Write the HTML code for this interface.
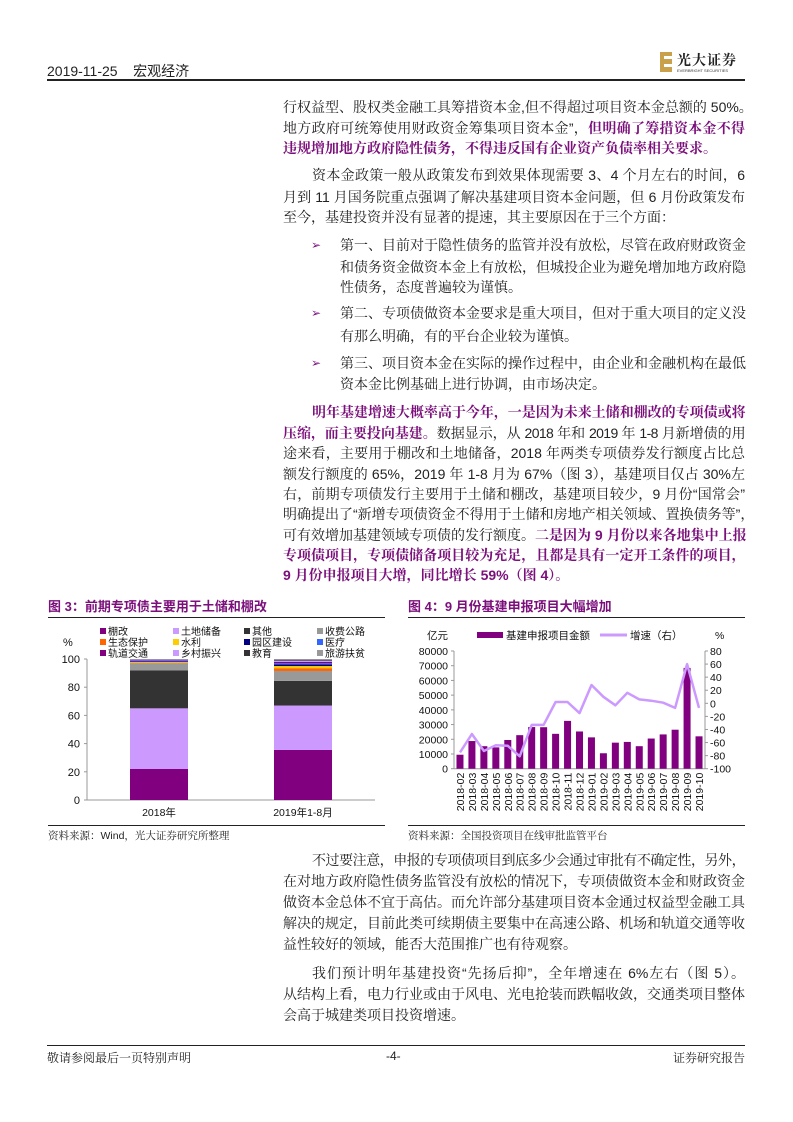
<!DOCTYPE html>
<html><head><meta charset="utf-8">
<style>
html,body{margin:0;padding:0;background:#fff;}
body{width:793px;height:1122px;position:relative;overflow:hidden;font-family:"Liberation Sans","Noto Serif CJK SC","Noto Sans CJK SC",serif;color:#222;}
.l{position:absolute;left:283px;width:462px;height:20px;line-height:20px;font-size:14px;white-space:nowrap;text-align:justify;text-align-last:justify;}
.n{text-align-last:left;}
.k{letter-spacing:-0.6px;}
.b{left:340px;width:405px;}
.ar{position:absolute;left:311px;font-size:12px;color:#7b0f7b;line-height:20px;}
.p{color:#7b0f7b;font-weight:bold;}
.t{position:absolute;font-size:13px;font-weight:bold;color:#7b0f7b;font-family:"Liberation Sans","Noto Sans CJK SC",sans-serif;}
.s{position:absolute;font-size:10.5px;color:#222;}
.h{position:absolute;height:1.5px;background:#222;}
svg text{font-family:"Liberation Sans","Noto Sans CJK SC",sans-serif;}
</style></head>
<body>
<div style="position:absolute;left:47px;top:61px;font-size:14px;font-family:'Liberation Sans','Noto Sans CJK SC',sans-serif;">2019-11-25&nbsp;&nbsp;&nbsp; 宏观经济</div>
<div class="h" style="left:47px;top:79px;width:698px;"></div>
<div style="position:absolute;left:660px;top:50px;width:86px;height:26px;">
  <div style="position:absolute;left:0;top:2px;width:12px;height:20px;background:#c9a14a;"></div>
  <div style="position:absolute;left:4px;top:6px;width:10px;height:3px;background:#fff;"></div>
  <div style="position:absolute;left:4px;top:14px;width:10px;height:3px;background:#fff;"></div>
  <div style="position:absolute;left:17px;top:0;font-size:14px;font-weight:bold;letter-spacing:1px;color:#222;">光大证券</div>
  <div style="position:absolute;left:17px;top:18px;font-size:4px;color:#333;">EVERBRIGHT SECURITIES</div>
</div>

<div class="l" style="top:97px">行权益型、股权类金融工具筹措资本金,但不得超过项目资本金总额的 50%。</div>
<div class="l" style="top:118px">地方政府可统筹使用财政资金筹集项目资本金”，<span class="p">但明确了筹措资本金不得</span></div>
<div class="l n p" style="top:138px">违规增加地方政府隐性债务，不得违反国有企业资产负债率相关要求。</div>

<div class="l" style="top:165px;left:312px;width:433px;">资本金政策一般从政策发布到效果体现需要 3、4 个月左右的时间，6</div>
<div class="l" style="top:187px">月到 11 月国务院重点强调了解决基建项目资本金问题，但 6 月份政策发布</div>
<div class="l n" style="top:207px">至今，基建投资并没有显著的提速，其主要原因在于三个方面：</div>

<div class="ar" style="top:235px">➢</div>
<div class="l b" style="top:235px">第一、目前对于隐性债务的监管并没有放松，尽管在政府财政资金</div>
<div class="l b" style="top:257px">和债务资金做资本金上有放松，但城投企业为避免增加地方政府隐</div>
<div class="l b n" style="top:277px">性债务，态度普遍较为谨慎。</div>
<div class="ar" style="top:303px">➢</div>
<div class="l b" style="top:303px">第二、专项债做资本金要求是重大项目，但对于重大项目的定义没</div>
<div class="l b n" style="top:326px">有那么明确，有的平台企业较为谨慎。</div>
<div class="ar" style="top:353px">➢</div>
<div class="l b" style="top:353px">第三、项目资本金在实际的操作过程中，由企业和金融机构在最低</div>
<div class="l b n" style="top:374px">资本金比例基础上进行协调，由市场决定。</div>

<div class="l p k" style="top:402px;left:312px;width:433px;">明年基建增速大概率高于今年，一是因为未来土储和棚改的专项债或将</div>
<div class="l k" style="top:423px"><span class="p">压缩，而主要投向基建。</span>数据显示，从 2018 年和 2019 年 1-8 月新增债的用</div>
<div class="l" style="top:443px">途来看，主要用于棚改和土地储备，2018 年两类专项债券发行额度占比总</div>
<div class="l" style="top:464px">额发行额度的 65%，2019 年 1-8 月为 67%（图 3），基建项目仅占 30%左</div>
<div class="l" style="top:484px">右，前期专项债发行主要用于土储和棚改，基建项目较少，9 月份“国常会”</div>
<div class="l" style="top:504px">明确提出了“新增专项债资金不得用于土储和房地产相关领域、置换债务等”，</div>
<div class="l" style="top:525px">可有效增加基建领域专项债的发行额度。<span class="p">二是因为 9 月份以来各地集中上报</span></div>
<div class="l p k" style="top:545px">专项债项目，专项债储备项目较为充足，且都是具有一定开工条件的项目，</div>
<div class="l n p" style="top:565px">9 月份申报项目大增，同比增长 59%（图 4）。</div>

<div class="t" style="left:48px;top:596px;">图 3：前期专项债主要用于土储和棚改</div>
<div class="t" style="left:408px;top:596px;">图 4：9 月份基建申报项目大幅增加</div>
<div class="h" style="left:48px;top:617px;width:337px;height:1px;"></div>
<div class="h" style="left:408px;top:617px;width:337px;height:1px;"></div>
<div class="h" style="left:48px;top:825px;width:337px;height:1px;"></div>
<div class="h" style="left:408px;top:825px;width:337px;height:1px;"></div>
<div class="s" style="left:48px;top:828px;">资料来源：Wind，光大证券研究所整理</div>
<div class="s" style="left:408px;top:828px;">资料来源：全国投资项目在线审批监管平台</div>

<svg id="ch" width="793" height="1122" style="position:absolute;left:0;top:0;"></svg>

<div class="l k" style="top:850px;left:312px;width:433px;">不过要注意，申报的专项债项目到底多少会通过审批有不确定性，另外，</div>
<div class="l" style="top:871px">在对地方政府隐性债务监管没有放松的情况下，专项债做资本金和财政资金</div>
<div class="l" style="top:892px">做资本金总体不宜于高估。而允许部分基建项目资本金通过权益型金融工具</div>
<div class="l" style="top:913px">解决的规定，目前此类可续期债主要集中在高速公路、机场和轨道交通等收</div>
<div class="l n" style="top:934px">益性较好的领域，能否大范围推广也有待观察。</div>
<div class="l" style="top:963px;left:312px;width:433px;">我们预计明年基建投资“先扬后抑”，全年增速在 6%左右（图 5）。</div>
<div class="l" style="top:984px">从结构上看，电力行业或由于风电、光电抢装而跌幅收敛，交通类项目整体</div>
<div class="l n" style="top:1005px">会高于城建类项目投资增速。</div>

<div class="h" style="left:47px;top:1045px;width:698px;height:1px;"></div>
<div style="position:absolute;left:47px;top:1049px;font-size:12px;">敬请参阅最后一页特别声明</div>
<div style="position:absolute;left:386px;top:1049px;font-size:12px;">-4-</div>
<div style="position:absolute;left:673px;top:1049px;font-size:12px;">证券研究报告</div>

<script>
// Figure 3 data
const cat3 = ["2018年","2019年1-8月"];
const series3 = ["棚改","土地储备","其他","收费公路","生态保护","水利","园区建设","医疗","轨道交通","乡村振兴","教育","旅游扶贫"];
const colors3 = ["#800080","#cc99ff","#333333","#999999","#ff6600","#ffcc00","#000080","#3366ff","#800080","#cc99ff","#333333","#999999"];
const v2018 = [22,43,27,5,0.3,0.5,0.5,0.3,0.5,0.4,0.3,0.2];
const v2019 = [35.5,31.5,17.5,7,2,1.5,1.2,0.8,1,0.8,0.7,0.5];
const ticks3 = [0,20,40,60,80,100];
// Figure 4 data
const cat4 = ["2018-02","2018-03","2018-04","2018-05","2018-06","2018-07","2018-08","2018-09","2018-10","2018-11","2018-12","2019-01","2019-02","2019-03","2019-04","2019-05","2019-06","2019-07","2019-08","2019-09","2019-10"];
const amount4 = [9500,18800,15300,14500,19500,22800,28300,28200,23700,32500,25300,21300,10500,17700,18200,15300,20500,23300,26500,68500,22000];
const growth4 = [-75,-47,-73,-64,-65,-81,-33,-33,2,2,-15,28,10,-3,16,6,4,1,-7,60,-7];
const ticksL4 = [0,10000,20000,30000,40000,50000,60000,70000,80000];
const ticksR4 = [-100,-80,-60,-40,-20,0,20,40,60,80];

const svg = document.getElementById('ch');
const NS = "http://www.w3.org/2000/svg";
function mk(tag, attrs, parent){const e=document.createElementNS(NS,tag);for(const k in attrs)e.setAttribute(k,attrs[k]);(parent||svg).appendChild(e);return e;}
function txt(x,y,s,size,anchor,parent){const t=mk('text',{x:x,y:y,'font-size':size,'text-anchor':anchor||'start',fill:'#111'},parent);t.textContent=s;return t;}

// ---- Figure 3
const g3 = mk('g',{});


const y3 = v => 800 - v*1.41;
const x3c = [159,303];
mk('line',{x1:87,y1:659,x2:87,y2:800,stroke:'#999','stroke-width':1},g3);
mk('line',{x1:87,y1:800,x2:375,y2:800,stroke:'#999','stroke-width':1},g3);
ticks3.forEach(t=>{
  mk('line',{x1:84,y1:y3(t),x2:87,y2:y3(t),stroke:'#999'},g3);
  const tt=txt(80,y3(t)+4,String(t),11,'end',g3);
  
  
});
const pc=txt(63,646,'%',11,'start',g3);


[v2018,v2019].forEach((vals,ci)=>{
  let acc=0;
  vals.forEach((v,si)=>{
    const r=mk('rect',{x:x3c[ci]-29,y:y3(acc+v),width:58,height:Math.max(0,y3(acc)-y3(acc+v)),fill:colors3[si]},g3);
    
    
    acc+=v;
  });
  const lb=txt(x3c[ci],816,cat3[ci],10.5,'middle',g3);
  
  
});
const lgx=[103,176,247,320], lgy=[632,643,654];
series3.forEach((s,i)=>{
  const cx=lgx[i%4], cy=lgy[Math.floor(i/4)];
  const sw=mk('rect',{x:cx-3,y:cy-4,width:6,height:6,fill:colors3[i]},g3);
  
  
  const lt=txt(cx+5,cy+3,s,10,'start',g3);
  
  
});

// ---- Figure 4
const g4 = mk('g',{});


const top4=651, bot4=768.7, L4=454, R4=705;
const yL = v => bot4 - (v/80000)*(bot4-top4);
const yR = v => bot4 - ((v+100)/180)*(bot4-top4);
const step4 = (R4-L4)/cat4.length;
const xc = i => L4 + step4*(i+0.5);
mk('line',{x1:L4,y1:top4,x2:L4,y2:bot4,stroke:'#999'},g4);
mk('line',{x1:R4,y1:top4,x2:R4,y2:bot4,stroke:'#999'},g4);
mk('line',{x1:L4,y1:bot4,x2:R4,y2:bot4,stroke:'#999'},g4);
ticksL4.forEach(t=>{
  mk('line',{x1:L4-3,y1:yL(t),x2:L4,y2:yL(t),stroke:'#999'},g4);
  const tt=txt(448,yL(t)+4,String(t),10.5,'end',g4);
  
  
});
ticksR4.forEach(t=>{
  mk('line',{x1:R4,y1:yR(t),x2:R4+3,y2:yR(t),stroke:'#999'},g4);
  const tt=txt(710,yR(t)+4,String(t),10.5,'start',g4);
  
  
});
amount4.forEach((v,i)=>{
  const r=mk('rect',{x:xc(i)-3.5,y:yL(v),width:7,height:bot4-yL(v),fill:'#800080'},g4);
  
  
});
const pts=growth4.map((v,i)=>xc(i).toFixed(1)+','+yR(v).toFixed(1)).join(' ');
const pl=mk('polyline',{points:pts,fill:'none',stroke:'#cc99ff','stroke-width':2.5,'stroke-linejoin':'round'},g4);


cat4.forEach((c,i)=>{
  const t=txt(0,0,c,10.5,'end',g4);
  t.setAttribute('transform','translate('+(xc(i)+4)+','+(bot4+4)+') rotate(-90)');
  
  
});
const u1=txt(427,639,'亿元',10.5,'start',g4);


const u2=txt(715,639,'%',10.5,'start',g4);


const ls1=mk('rect',{x:477,y:632,width:26,height:6,fill:'#800080'},g4);


const lt1=txt(506,639,'基建申报项目金额',10.5,'start',g4);


const ls2=mk('line',{x1:600,y1:635,x2:627,y2:635,stroke:'#cc99ff','stroke-width':3},g4);


const lt2=txt(630,639,'增速（右）',10.5,'start',g4);


</script>
</body></html>
